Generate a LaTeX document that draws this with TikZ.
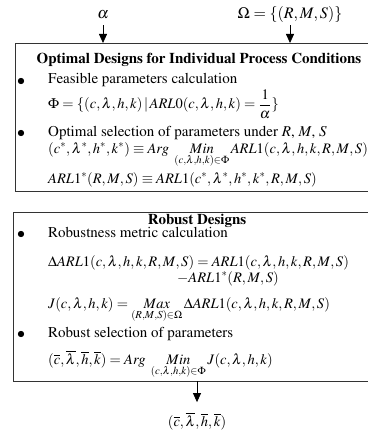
\documentclass[tikz,border=0pt]{standalone}
\usepackage[T1]{fontenc}
\usepackage{mathptmx}
\usetikzlibrary{arrows.meta}
\newcommand{\bodysize}{\fontsize{15pt}{18pt}\selectfont}

\begin{document}
\begin{tikzpicture}[x=1pt, y=-1pt,
    body/.style={anchor=base west, inner sep=0pt, font=\bodysize},
    formula/.style={body, font=\fontsize{14.5pt}{17pt}\selectfont},
    heading/.style={anchor=base, inner sep=0pt, font=\fontsize{15pt}{18pt}\selectfont\bfseries},
    input/.style={anchor=base, inner sep=0pt, font=\fontsize{16pt}{19pt}\selectfont},
    dot/.style={anchor=base, inner sep=0pt, font=\fontsize{16pt}{19pt}\selectfont},
    panel/.style={draw=black!80, line width=0.8pt},
    feed/.style={-{Triangle[length=9pt,width=8pt]}, line width=0.8pt}]
  \useasboundingbox (0,0) rectangle (367,433);

  % Inputs
  \node[input] (alpha) at (103,19) {$\alpha$};
  \node[input] (omega) at (290,19) {$\Omega=\{(R,M,S)\}$};

  % Panel 1: optimal designs
  \coordinate (p1nw) at (15,43);
  \coordinate (p1sw) at (15,191);
  \draw[panel] (385,43) -- (p1nw) -- (p1sw) -- (385,191);
  \coordinate (in1) at (103,43);
  \coordinate (in2) at (290,43);
  \draw[feed, shorten <=6pt] (alpha.south) -- (in1);
  \draw[feed, shorten <=2pt] (omega.south) -- (in2);

  \node[heading] (head1) at (199,64) {Optimal Designs for Individual Process Conditions};
  \node[dot] (d1) at (21,85) {$\bullet$};
  \node[body] (feas) at (48,84) {Feasible parameters calculation};
  \node[formula] (phi) at (48,109) {$\displaystyle\Phi=\{(c,\lambda,h,k)\,|\,ARL0(c,\lambda,h,k)=\frac{1}{\alpha}\}$};
  \node[dot] (d2) at (21,137) {$\bullet$};
  \node[body] (optsel) at (48,136) {Optimal selection of parameters under $R$, $M$, $S$};
  \node[formula] (opt) at (48,153) {$(c^*,\lambda^*,h^*,k^*)\equiv Arg\ \mathop{Min}\limits_{(c,\lambda,h,k)\in\Phi} ARL1(c,\lambda,h,k,R,M,S)$};
  \node[formula] (arlstar) at (48,183) {$ARL1^*(R,M,S)\equiv ARL1(c^*,\lambda^*,h^*,k^*,R,M,S)$};

  % Panel 2: robust designs
  \coordinate (p2nw) at (13,212);
  \coordinate (p2sw) at (13,381);
  \draw[panel] (385,212) -- (p2nw) -- (p2sw) -- (385,381);

  \node[heading] (head2) at (197,224) {Robust Designs};
  \node[dot] (d3) at (21,238) {$\bullet$};
  \node[body] (metric) at (48,237) {Robustness metric calculation};
  \node[formula] (delta) at (48,266) {$\Delta ARL1(c,\lambda,h,k,R,M,S)=ARL1(c,\lambda,h,k,R,M,S)$};
  \node[formula] (minus) at (177,282) {$-ARL1^*(R,M,S)$};
  \node[formula] (jfun) at (48,308) {$J(c,\lambda,h,k)=\mathop{Max}\limits_{(R,M,S)\in\Omega}\Delta ARL1(c,\lambda,h,k,R,M,S)$};
  \node[dot] (d4) at (21,338) {$\bullet$};
  \node[body] (robsel) at (48,337) {Robust selection of parameters};
  \node[formula] (rob) at (48,364) {$(\overline{c},\overline{\lambda},\overline{h},\overline{k})=Arg\ \mathop{Min}\limits_{(c,\lambda,h,k)\in\Phi}J(c,\lambda,h,k)$};

  % Output
  \coordinate (out) at (197,381);
  \node[formula, anchor=base] (result) at (197,426) {$(\overline{c},\overline{\lambda},\overline{h},\overline{k})$};
  \draw[feed, shorten >=10pt] (out) -- (result.north);
\end{tikzpicture}
\end{document}
